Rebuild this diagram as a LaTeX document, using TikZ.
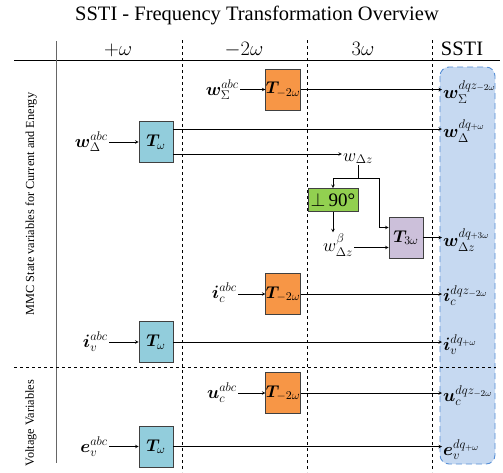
\RequirePackage{fix-cm}
\documentclass[tikz,border=0pt]{standalone}
\usepackage{amsmath}
\usepackage{bm}
\usepackage{fontspec}
\setmainfont{Liberation Serif}
\usepackage{xcolor}
\usetikzlibrary{positioning, calc}

\definecolor{tealbox}{HTML}{92CDDC}
\definecolor{orangebox}{HTML}{F79646}
\definecolor{greenbox}{HTML}{92D050}
\definecolor{lilacbox}{HTML}{CCC0DA}
\definecolor{sstifill}{HTML}{C6D9F1}
\definecolor{sstiedge}{HTML}{558ED5}

\begin{document}
\begin{tikzpicture}[
    x=1pt, y=-1pt,
    >=stealth,
    every node/.style={inner sep=1pt},
    block/.style={draw=black!75, line width=0.7pt, minimum width=34pt,
        minimum height=41pt, inner sep=0pt, font=\fontsize{17}{20}\selectfont},
    posT/.style={block, fill=tealbox},
    negT/.style={block, fill=orangebox},
    triT/.style={block, fill=lilacbox},
    quad/.style={block, fill=greenbox, minimum width=50pt, minimum height=23pt,
        font=\fontsize{19}{22}\selectfont},
    lbl/.style={font=\fontsize{18}{21}\selectfont},
    head/.style={anchor=base, font=\fontsize{20.5}{24}\selectfont},
    sep/.style={dashed, line width=0.6pt},
    flow/.style={->, line width=0.6pt}
]
\useasboundingbox (0,0) rectangle (503,472);

% Title and column heads
\node[head] (title) at (257,20) {SSTI - Frequency Transformation Overview};
\node[head] (hpos) at (118,55) {$+\omega$};
\node[head] (hneg) at (244,55) {$-2\omega$};
\node[head] (htri) at (363,55) {$3\omega$};
\node[head] (hssti) at (462,55) {SSTI};

% SSTI column
\draw[rounded corners=9pt, fill=sstifill, draw=sstiedge, line width=0.9pt,
    dash pattern=on 6pt off 4pt] (440,67) rectangle (495,464);

% Table lines
\draw[line width=0.8pt] (14,60) -- (500,60);
\draw[line width=1pt, black!60] (56,41) -- (56,463);
\draw[sep] (182,40) -- (182,472);
\draw[sep] (307,40) -- (307,472);
\draw[sep] (432,40) -- (432,472);
\draw[sep] (14,367) -- (496,367);

% Row groups
\node[rotate=90, font=\fontsize{12.3}{14}\selectfont] (mmc) at (31,204)
    {MMC State variables for Current and Energy};
\node[rotate=90, font=\fontsize{12.3}{14}\selectfont] (volt) at (31,423)
    {Voltage Variables};

% Sum energy
\node[lbl, anchor=base east] (wSin) at (240,95) {$\bm{w}_{\Sigma}^{abc}$};
\node[negT] (TwS) at (283,89.5) {$\bm{T}_{-2\omega}$};
\node[lbl, anchor=base west] (wSout) at (442,98) {$\bm{w}_{\Sigma}^{dqz_{-2\omega}}$};

% Delta energy
\node[lbl, anchor=base east] (wDin) at (109,147) {$\bm{w}_{\Delta}^{abc}$};
\node[posT] (TwD) at (156,142) {$\bm{T}_{\omega}$};
\node[lbl, anchor=base west] (wDout) at (442,137) {$\bm{w}_{\Delta}^{dq_{+\omega}}$};
\coordinate (d1) at ([yshift=13pt]TwD.east);
\coordinate (d2) at ([yshift=-12pt]TwD.east);

% Zero sequence part
\node[lbl, anchor=base] (wDz) at (358,161) {$w_{\Delta z}$};
\coordinate (split) at (wDz.south |- 0,178);
\node[quad] (rot) at (333,200) {$\perp$\,90°};
\node[lbl, anchor=base] (wDzb) at (338,251) {$w_{\Delta z}^{\beta}$};
\node[triT] (T3) at (406,237.5) {$\bm{T}_{3\omega}$};
\node[lbl, anchor=base west] (wZout) at (442,246) {$\bm{w}_{\Delta z}^{dq_{+3\omega}}$};
\coordinate (t3a) at ([yshift=10pt]T3.west);
\coordinate (t3b) at ([yshift=-10pt]T3.west);

% Circulating current
\node[lbl, anchor=base east] (iCin) at (238,298) {$\bm{i}_{c}^{abc}$};
\node[negT] (TiC) at (283,294) {$\bm{T}_{-2\omega}$};
\node[lbl, anchor=base west] (iCout) at (442,301) {$\bm{i}_{c}^{dqz_{-2\omega}}$};

% Output current
\node[lbl, anchor=base east] (iVin) at (109,347) {$\bm{i}_{v}^{abc}$};
\node[posT] (TiV) at (156,342) {$\bm{T}_{\omega}$};
\node[lbl, anchor=base west] (iVout) at (442,350) {$\bm{i}_{v}^{dq_{+\omega}}$};

% Voltages
\node[lbl, anchor=base east] (uCin) at (238,398) {$\bm{u}_{c}^{abc}$};
\node[negT] (TuC) at (283,393) {$\bm{T}_{-2\omega}$};
\node[lbl, anchor=base west] (uCout) at (442,401) {$\bm{u}_{c}^{dqz_{-2\omega}}$};

\node[lbl, anchor=base east] (eVin) at (109,452) {$\bm{e}_{v}^{abc}$};
\node[posT] (TeV) at (156,446.5) {$\bm{T}_{\omega}$};
\node[lbl, anchor=base west] (eVout) at (442,455) {$\bm{e}_{v}^{dq_{+\omega}}$};

% Signal flow
\draw[flow] (wSin.east |- TwS) -- (TwS);
\draw[flow] (TwS) -- (TwS -| wSout.west);
\draw[flow] (wDin.east |- TwD) -- (TwD);
\draw[flow] (d1) -- (d1 -| wDout.west);
\draw[flow] (d2) -- (d2 -| wDz.west);
\draw[line width=0.6pt] (wDz.south) -- (split);
\draw[flow] (split) -| (rot.north);
\draw[flow] (split) -- ++(21,0) |- (t3a);
\draw[flow] (rot.south) -- (rot.south |- wDzb.north);
\draw[flow] (wDzb.east |- t3b) -- (t3b);
\draw[flow] (T3) -- (T3 -| wZout.west);
\draw[flow] (iCin.east |- TiC) -- (TiC);
\draw[flow] (TiC) -- (TiC -| iCout.west);
\draw[flow] (iVin.east |- TiV) -- (TiV);
\draw[flow] (TiV) -- (TiV -| iVout.west);
\draw[flow] (uCin.east |- TuC) -- (TuC);
\draw[flow] (TuC) -- (TuC -| uCout.west);
\draw[flow] (eVin.east |- TeV) -- (TeV);
\draw[flow] (TeV) -- (TeV -| eVout.west);

\end{tikzpicture}
\end{document}
